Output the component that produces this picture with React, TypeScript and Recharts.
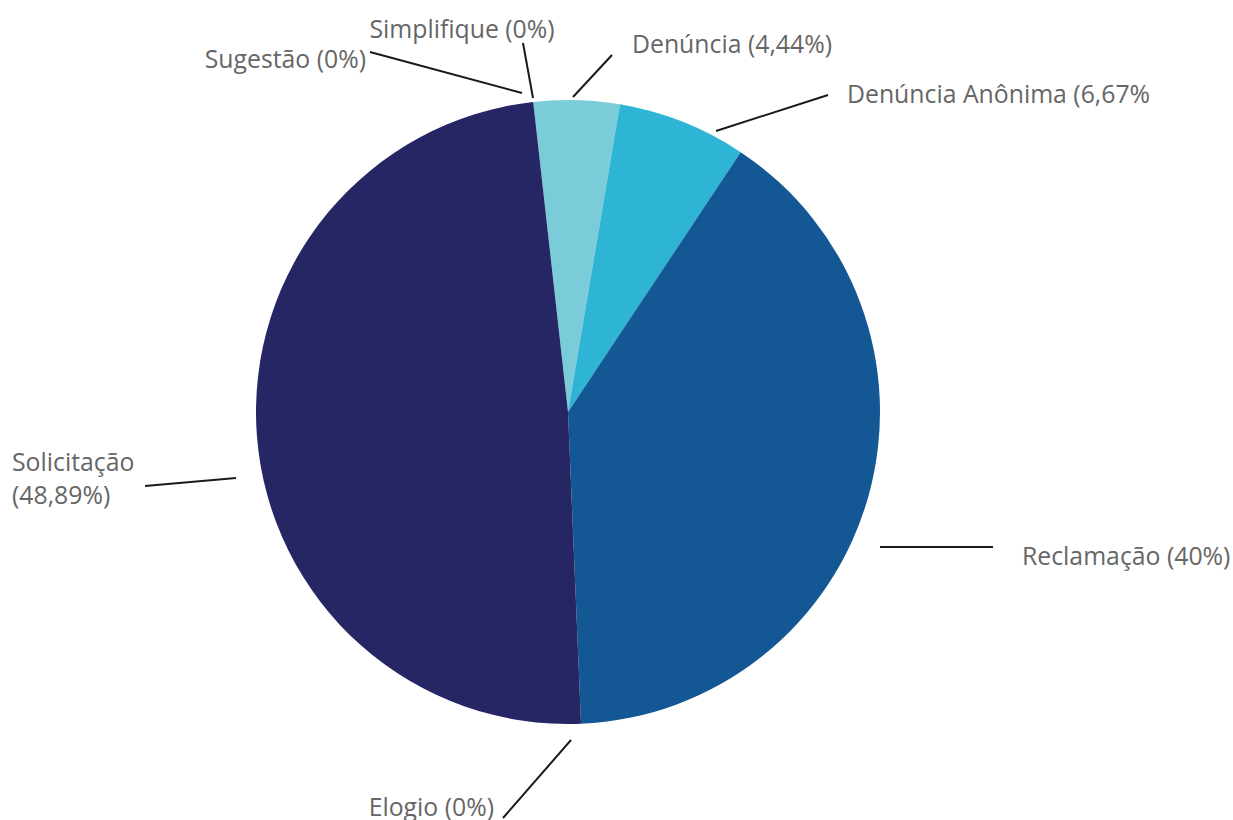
import { PieChart, Pie, Cell } from 'recharts'

const categories = ['Denúncia', 'Denúncia Anônima', 'Reclamação', 'Elogio', 'Solicitação', 'Sugestão', 'Simplifique']
const counts = [2, 3, 18, 0, 22, 0, 0]
const percentLabels = ['4,44%', '6,67%', '40%', '0%', '48,89%', '0%', '0%']
const colors = ['#7ACDD8', '#2EB4D4', '#135794', '#135794', '#262664', '#262664', '#262664']

const data = categories.map((name, i) => ({ name, value: counts[i], pct: percentLabels[i] }))

// label placement relative to pie centre (line from, line to, text position)
const labelLayout: Record<string, { from: number[]; to: number[]; text: number[]; anchor: string; lines?: string[] }> = {
  'Denúncia': { from: [5, -315], to: [44, -357], text: [64, -369], anchor: 'start' },
  'Denúncia Anônima': { from: [148, -281], to: [260, -317], text: [279, -319], anchor: 'start', lines: ['Denúncia Anônima (6,67%'] },
  'Reclamação': { from: [312, 135], to: [425, 135], text: [454, 143], anchor: 'start' },
  'Elogio': { from: [3, 328], to: [-65, 406], text: [-74, 394], anchor: 'end' },
  'Solicitação': { from: [-332, 66], to: [-423, 74], text: [-556, 49], anchor: 'start', lines: ['Solicitação', '(48,89%)'] },
  'Sugestão': { from: [-46, -319], to: [-198, -360], text: [-202, -354], anchor: 'end' },
  'Simplifique': { from: [-35, -314], to: [-45, -369], text: [-106, -384], anchor: 'middle' },
}

const renderLabel = (props: any) => {
  const { cx, cy, name, payload } = props
  const l = labelLayout[name]
  if (!l) return null
  const lines = l.lines || [`${name} (${payload.pct})`]
  return (
    <g key={name}>
      <line
        x1={cx + l.from[0]} y1={cy + l.from[1]}
        x2={cx + l.to[0]} y2={cy + l.to[1]}
        stroke="#1a1a1a" strokeWidth={2}
      />
      {lines.map((t, i) => (
        <text
          key={i}
          x={cx + l.text[0]}
          y={cy + l.text[1] + i * 33}
          textAnchor={l.anchor as any}
          dominantBaseline="central"
          fill="#666666"
          fontSize={24.8}
          fontFamily="'Open Sans', sans-serif"
        >
          {t}
        </text>
      ))}
    </g>
  )
}

export default function App() {
  return (
    <div style={{ position: 'absolute', left: 0, top: 0, background: '#fff' }}>
      <PieChart width={1233} height={820} margin={{ top: 0, right: 0, bottom: 0, left: 0 }}>
        <Pie
          data={data}
          dataKey="value"
          nameKey="name"
          cx={568}
          cy={412}
          outerRadius={312}
          startAngle={96.4}
          endAngle={-263.6}
          stroke="none"
          label={renderLabel}
          labelLine={false}
          isAnimationActive={false}
        >
          {data.map((d, i) => (
            <Cell key={d.name} fill={colors[i]} />
          ))}
        </Pie>
      </PieChart>
    </div>
  )
}
